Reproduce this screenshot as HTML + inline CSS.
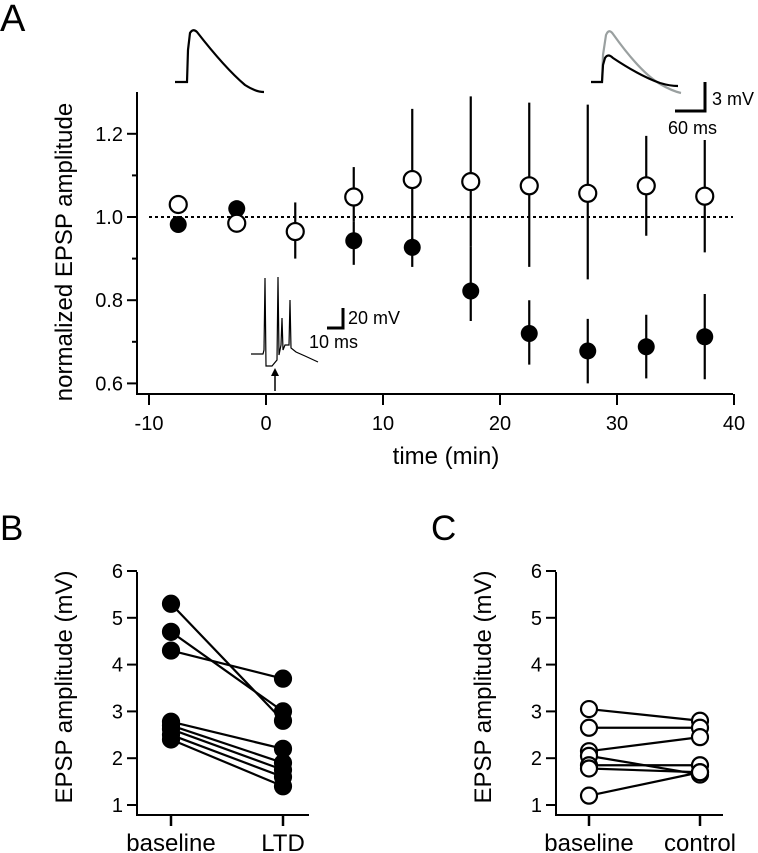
<!DOCTYPE html>
<html><head><meta charset="utf-8"><style>
html,body{margin:0;padding:0;background:#fff;}
svg{display:block;font-family:"Liberation Sans",Arial,sans-serif;}
</style></head><body>
<svg id="fig" width="758" height="853" viewBox="0 0 758 853" xmlns="http://www.w3.org/2000/svg">
<text x="0" y="31" font-size="38">A</text>
<text x="0" y="540" font-size="35">B</text>
<text x="431" y="540" font-size="35">C</text>
<!-- EPSP traces -->
<path d="M175,82 L187,82 L188,50 L190,33 Q193,28 197,32 Q225,68 245,85 Q256,92 264,92" fill="none" stroke="#000" stroke-width="2.2"/>
<path d="M591,82 L602,82 L603,55 L606,35 Q609,28 613,34 Q640,72 660,84 Q672,91 681,93" fill="none" stroke="#9aa0a0" stroke-width="2.2"/>
<path d="M591,82 L602,82 L603,65 L605,58 Q608,53 613,58 Q640,76 660,83 Q670,86 678,86" fill="none" stroke="#000" stroke-width="2.2"/>
<path d="M705,82 L705,111 L675,111" fill="none" stroke="#000" stroke-width="3"/>
<text x="712" y="105" font-size="18">3 mV</text>
<text x="668" y="134" font-size="18">60 ms</text>
<!-- spike inset -->
<path d="M251,354 L263,354 L264,350 L265,278 L266,366 L272,366 L277,360 L278,277 L279,355 L281,345 L282,318 L283,350 L285,345 L289,345 L290,300 L291,348 L296,352 L305,356 L318,362" fill="none" stroke="#000" stroke-width="1.2"/>
<path d="M275,391 L275,374" stroke="#000" stroke-width="1.5"/>
<path d="M271,376 L275,368 L279,376 Z" fill="#000"/>
<path d="M343,308 L343,328 L327,328" fill="none" stroke="#000" stroke-width="3"/>
<text x="348" y="324" font-size="18">20 mV</text>
<text x="309" y="348" font-size="18">10 ms</text>
<g id="gA"></g><g id="gB"></g><g id="gC"></g>
</svg>
<script>
const NS="http://www.w3.org/2000/svg";
// Panel A data
const timesA=[-7.5,-2.5,2.5,7.5,12.5,17.5,22.5,27.5,32.5,37.5];
const openVals=[1.03,0.985,0.965,1.048,1.09,1.085,1.075,1.057,1.075,1.05];
const openLo=[1.01,0.97,0.9,0.99,0.93,0.93,0.88,0.85,0.955,0.915];
const openHi=[1.045,1.0,1.035,1.12,1.26,1.29,1.275,1.27,1.195,1.185];
const filledTimes=[-7.5,-2.5,7.5,12.5,17.5,22.5,27.5,32.5,37.5];
const filledVals=[0.982,1.02,0.943,0.927,0.822,0.72,0.678,0.688,0.712];
const filledLo=[0.97,1.0,0.885,0.88,0.75,0.645,0.6,0.612,0.61];
const filledHi=[0.995,1.03,0.99,0.95,0.93,0.8,0.755,0.765,0.815];
const xTicksA=[-10,0,10,20,30,40];
const yTicksA=[0.6,0.8,1.0,1.2];
const yMinorA=[0.7,0.9,1.1];
// Panel B data
const bBase=[5.3,4.7,4.3,2.78,2.7,2.62,2.5,2.4];
const bLTD=[2.8,3.0,3.7,2.2,1.9,1.75,1.6,1.4];
// Panel C data
const cBase=[3.05,2.65,2.15,2.05,1.85,1.78,1.2];
const cCtrl=[2.8,2.65,2.45,1.65,1.85,1.7,1.7];
const yTicksBC=[1,2,3,4,5,6];

function el(tag,attrs,parent,txt){const e=document.createElementNS(NS,tag);for(const k in attrs)e.setAttribute(k,attrs[k]);if(txt!=null)e.textContent=txt;parent.appendChild(e);return e;}

// Panel A
const gA=document.getElementById('gA');
const xA=t=>266+(t)*11.7;
const yA=v=>217-(v-1.0)*416;
let e;
e=el('path',{d:'M137,92 L137,394 L733,394',fill:'none',stroke:'#000','stroke-width':2},gA);

xTicksA.forEach(t=>{
 e=el('line',{x1:xA(t),x2:xA(t),y1:394,y2:405,stroke:'#000','stroke-width':2},gA);
 
 e=el('text',{x:xA(t),y:430,'font-size':20,'text-anchor':'middle'},gA,String(t));
 
});
yTicksA.forEach(v=>{
 e=el('line',{x1:127,x2:137,y1:yA(v),y2:yA(v),stroke:'#000','stroke-width':2},gA);
 
 e=el('text',{x:123,y:yA(v)+7,'font-size':20,'text-anchor':'end'},gA,v.toFixed(1));
 
});
yMinorA.forEach(v=>{
 e=el('line',{x1:132,x2:137,y1:yA(v),y2:yA(v),stroke:'#000','stroke-width':2},gA);
 
});
e=el('line',{x1:149,x2:733,y1:yA(1),y2:yA(1),stroke:'#000','stroke-width':2,'stroke-dasharray':'3,3'},gA);

e=el('text',{x:446,y:464,'font-size':24,'text-anchor':'middle'},gA,'time (min)');

e=el('text',{x:0,y:0,'font-size':24,'text-anchor':'middle',transform:'translate(72,252) rotate(-90)'},gA,'normalized EPSP amplitude');

filledTimes.forEach((t,i)=>{
 e=el('line',{x1:xA(t),x2:xA(t),y1:yA(filledLo[i]),y2:yA(filledHi[i]),stroke:'#000','stroke-width':2.2},gA);
 
});
timesA.forEach((t,i)=>{
 e=el('line',{x1:xA(t),x2:xA(t),y1:yA(openLo[i]),y2:yA(openHi[i]),stroke:'#000','stroke-width':2.2},gA);
 
});
filledTimes.forEach((t,i)=>{
 e=el('circle',{cx:xA(t),cy:yA(filledVals[i]),r:8.5,fill:'#000'},gA);
 
});
timesA.forEach((t,i)=>{
 e=el('circle',{cx:xA(t),cy:yA(openVals[i]),r:8.5,fill:'#fff',stroke:'#000','stroke-width':2.2},gA);
 
});

// Panels B & C
function pair(g,ax,x1,x2,right,base,after,open,labels,nm){
 const y=v=>805-(v-1)*46.8;
 e=el('path',{d:`M${ax},572 L${ax},815 L${right},815`,fill:'none',stroke:'#000','stroke-width':2},g);
 
 yTicksBC.forEach(v=>{
  e=el('line',{x1:ax-10,x2:ax,y1:y(v),y2:y(v),stroke:'#000','stroke-width':2},g);
  
  e=el('text',{x:ax-14,y:y(v)+7,'font-size':20,'text-anchor':'end'},g,String(v));
  
 });
 [x1,x2].forEach((x,i)=>{
  e=el('line',{x1:x,x2:x,y1:815,y2:826,stroke:'#000','stroke-width':2.5},g);
  
  e=el('text',{x:x,y:851,'font-size':24,'text-anchor':'middle'},g,labels[i]);
  
 });
 e=el('text',{x:0,y:0,'font-size':24,'text-anchor':'middle',transform:`translate(${ax-65},687) rotate(-90)`},g,'EPSP amplitude (mV)');
 
 base.forEach((v,i)=>{
  e=el('line',{x1:x1,x2:x2,y1:y(v),y2:y(after[i]),stroke:'#000','stroke-width':2.2},g);
  
 });
 base.forEach((v,i)=>{
  [[x1,v],[x2,after[i]]].forEach(p=>{
   e=el('circle',{cx:p[0],cy:y(p[1]),r:8,fill:open?'#fff':'#000',stroke:'#000','stroke-width':2.2},g);
   
  });
 });
}
pair(document.getElementById('gB'),137,171,283,309,bBase,bLTD,false,['baseline','LTD'],'b');
pair(document.getElementById('gC'),556,589,700,723,cBase,cCtrl,true,['baseline','control'],'c');
</script>
</body></html>
